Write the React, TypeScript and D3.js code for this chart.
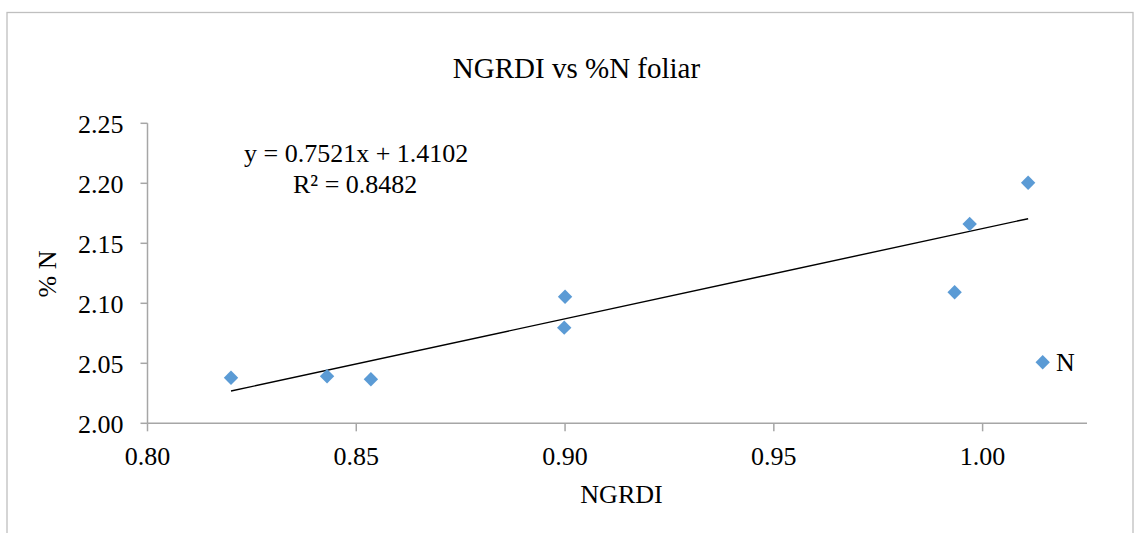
import React from "react";
import * as d3 from "d3";

// NGRDI index and leaf nitrogen (%) per sample
const ngrdi = [0.82, 0.843, 0.8535, 0.9, 0.8998, 1.0109, 0.9969, 0.9933];
const nitrogen = [2.038, 2.0392, 2.0367, 2.1055, 2.0797, 2.2005, 2.1661, 2.1092];
const xTicks = [0.8, 0.85, 0.9, 0.95, 1.0];
const yTicks = [2.0, 2.05, 2.1, 2.15, 2.2, 2.25];
const slope = 0.7521;
const intercept = 1.4102;
const rSquared = 0.8482;
const seriesName = "N";

const W = 1134;
const H = 533;
const FONT = "'Times New Roman', 'Liberation Serif', Times, serif";

const textStyle: React.CSSProperties = { fontFamily: FONT };

// diamond marker, half-diagonal r
const diamondPath = (r: number) => {
  const p = d3.path();
  p.moveTo(0, -r);
  p.lineTo(r, 0);
  p.lineTo(0, r);
  p.lineTo(-r, 0);
  p.closePath();
  return p.toString();
};

export default function App() {
  const x = d3.scaleLinear().domain([0.8, 1.025]).range([147.5, 1087]);
  const y = d3.scaleLinear().domain([2.0, 2.25]).range([423.3, 123.3]);

  const marker = diamondPath(7.2);

  const xMin = d3.min(ngrdi) as number;
  const xMax = d3.max(ngrdi) as number;
  const trend = d3
    .line<number>()
    .x((d) => x(d))
    .y((d) => y(slope * d + intercept))([xMin, xMax]);

  const axisColor = "#a6a6a6";

  return (
    <svg
      width={W}
      height={H}
      style={{ position: "absolute", left: 0, top: 0, background: "#fff", fontFamily: FONT }}
    >
      {/* chart frame */}
      <rect x={7} y={12.5} width={1126} height={540} fill="#fff" stroke="#bfbfbf" strokeWidth={1.3} />

      {/* title */}
      <text x={576.5} y={78} textAnchor="middle" fontSize={29} fill="#000" style={textStyle}>
        NGRDI vs %N foliar
      </text>

      {/* y axis */}
      <line x1={x(0.8)} x2={x(0.8)} y1={y(2.25)} y2={y(2.0)} stroke={axisColor} strokeWidth={1.5} />
      {yTicks.map((t) => (
        <g key={`y${t}`}>
          <line x1={x(0.8) - 7} x2={x(0.8)} y1={y(t)} y2={y(t)} stroke={axisColor} strokeWidth={1.5} />
          <text x={123.5} y={y(t) + 9.2} textAnchor="end" fontSize={26} fill="#000" style={textStyle}>
            {d3.format(".2f")(t)}
          </text>
        </g>
      ))}

      {/* x axis */}
      <line x1={x(0.8)} x2={x(1.025)} y1={y(2.0)} y2={y(2.0)} stroke={axisColor} strokeWidth={1.5} />
      {xTicks.map((t) => (
        <g key={`x${t}`}>
          <line x1={x(t)} x2={x(t)} y1={y(2.0)} y2={y(2.0) + 8} stroke={axisColor} strokeWidth={1.5} />
          <text x={x(t)} y={464.5} textAnchor="middle" fontSize={26} fill="#000" style={textStyle}>
            {d3.format(".2f")(t)}
          </text>
        </g>
      ))}

      {/* axis titles */}
      <text x={621.5} y={503} textAnchor="middle" fontSize={26} fill="#000" style={textStyle}>
        NGRDI
      </text>
      <text
        transform={`translate(56,274) rotate(-90)`}
        textAnchor="middle"
        fontSize={26}
        fill="#000"
        style={textStyle}
      >
        % N
      </text>

      {/* linear trend line */}
      <path d={trend ?? ""} fill="none" stroke="#000" strokeWidth={1.4} />

      {/* data points */}
      {ngrdi.map((v, i) => (
        <path
          key={i}
          d={marker}
          transform={`translate(${x(v)},${y(nitrogen[i])})`}
          fill="#5b9bd5"
        />
      ))}

      {/* trend equation */}
      <text x={244} y={162} fontSize={26} fill="#000" style={textStyle}>
        {`y = ${slope}x + ${intercept}`}
      </text>
      <text x={293} y={193} fontSize={26} fill="#000" style={textStyle}>
        {`R² = ${rSquared}`}
      </text>

      {/* legend */}
      <path d={marker} transform="translate(1042.7,362.3)" fill="#5b9bd5" />
      <text x={1056} y={370.7} fontSize={26} fill="#000" style={textStyle}>
        {seriesName}
      </text>
    </svg>
  );
}
